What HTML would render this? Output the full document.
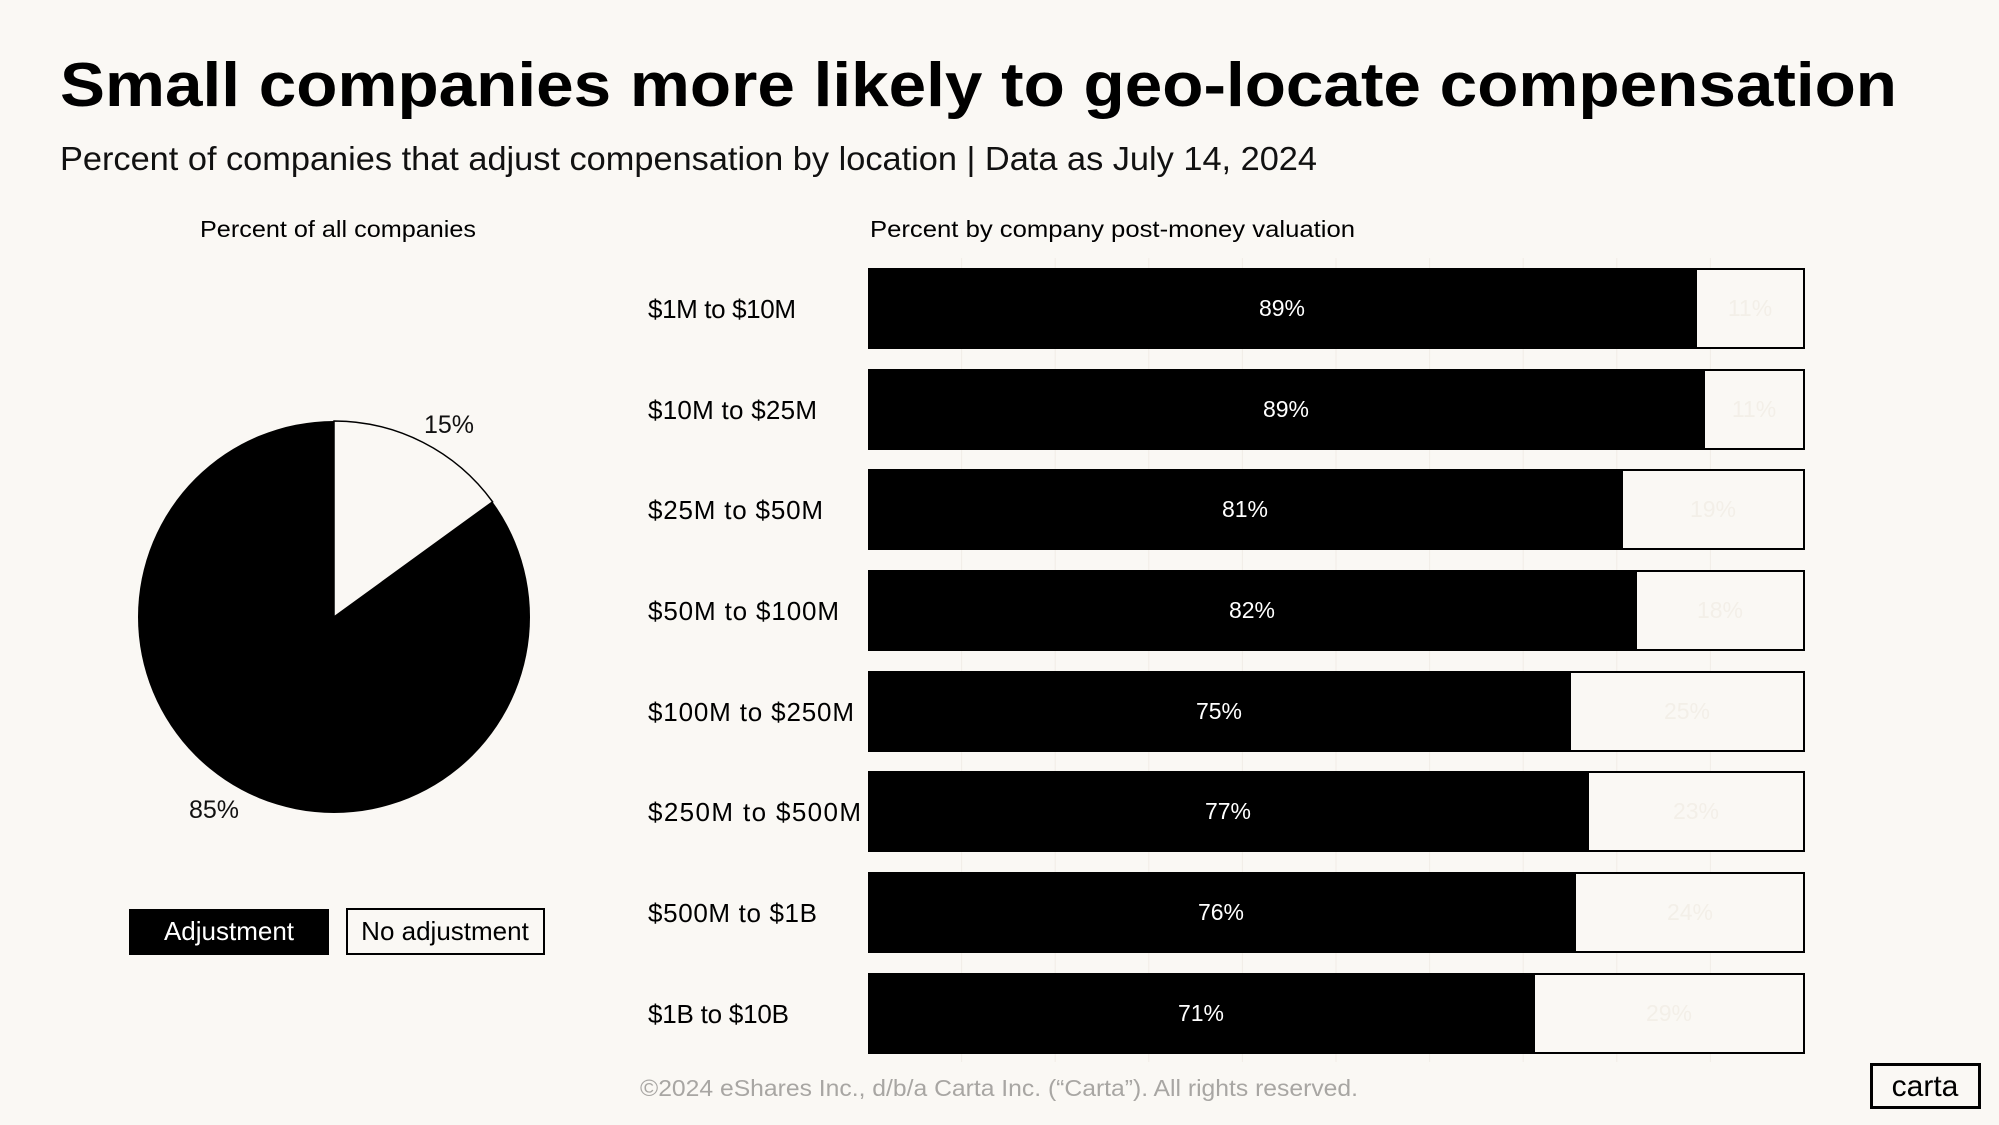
<!DOCTYPE html>
<html><head><meta charset="utf-8"><style>
html,body{margin:0;padding:0;background:#faf8f4;}
svg{display:block;}
text{font-family:"Liberation Sans",sans-serif;}
</style></head><body>
<svg width="1999" height="1125" viewBox="0 0 1999 1125" xmlns="http://www.w3.org/2000/svg">
<rect width="1999" height="1125" fill="#faf8f4"/>
<text x="60" y="106" font-size="62" font-weight="bold" fill="#000" textLength="1837" lengthAdjust="spacingAndGlyphs">Small companies more likely to geo-locate compensation</text>
<text x="60" y="170" font-size="33" fill="#111" textLength="1257" lengthAdjust="spacingAndGlyphs">Percent of companies that adjust compensation by location | Data as July 14, 2024</text>
<text x="200" y="237" font-size="23" fill="#000" textLength="276" lengthAdjust="spacingAndGlyphs">Percent of all companies</text>
<text x="870" y="237" font-size="23" fill="#000" textLength="485" lengthAdjust="spacingAndGlyphs">Percent by company post-money valuation</text>

<circle cx="334" cy="617" r="196" fill="#000"/>
<path d="M334,617 L334,421 A196,196 0 0 1 492.6,501.8 Z" fill="#faf8f4" stroke="#000" stroke-width="1.5"/>
<text x="449" y="433" font-size="25" fill="#111" text-anchor="middle">15%</text>
<text x="214" y="818" font-size="25" fill="#111" text-anchor="middle">85%</text>

<rect x="129" y="909" width="200" height="46" fill="#000"/>
<text x="229" y="940" font-size="26" fill="#fff" text-anchor="middle">Adjustment</text>
<rect x="347" y="909" width="197" height="45" fill="none" stroke="#000" stroke-width="2"/>
<text x="445" y="940" font-size="26" fill="#000" text-anchor="middle">No adjustment</text>

<g stroke="#f1ede6" stroke-width="1">
<line x1="961.6" y1="258" x2="961.6" y2="1062"/><line x1="1055.2" y1="258" x2="1055.2" y2="1062"/>
<line x1="1148.8" y1="258" x2="1148.8" y2="1062"/><line x1="1242.4" y1="258" x2="1242.4" y2="1062"/>
<line x1="1336" y1="258" x2="1336" y2="1062"/><line x1="1429.6" y1="258" x2="1429.6" y2="1062"/>
<line x1="1523.2" y1="258" x2="1523.2" y2="1062"/><line x1="1616.8" y1="258" x2="1616.8" y2="1062"/>
<line x1="1710.4" y1="258" x2="1710.4" y2="1062"/>
</g>

<g font-size="26" fill="#000" lengthAdjust="spacingAndGlyphs">
<text x="648" y="318" textLength="148">$1M to $10M</text>
<text x="648" y="419" textLength="169">$10M to $25M</text>
<text x="648" y="519" textLength="175">$25M to $50M</text>
<text x="648" y="620" textLength="191">$50M to $100M</text>
<text x="648" y="721" textLength="206">$100M to $250M</text>
<text x="648" y="821" textLength="213">$250M to $500M</text>
<text x="648" y="922" textLength="169">$500M to $1B</text>
<text x="648" y="1023" textLength="141">$1B to $10B</text>
</g>

<g stroke="#000" stroke-width="2">
<rect x="869" y="269" width="935" height="79" fill="#faf8f4"/>
<rect x="869" y="370" width="935" height="79" fill="#faf8f4"/>
<rect x="869" y="470" width="935" height="79" fill="#faf8f4"/>
<rect x="869" y="571" width="935" height="79" fill="#faf8f4"/>
<rect x="869" y="672" width="935" height="79" fill="#faf8f4"/>
<rect x="869" y="772" width="935" height="79" fill="#faf8f4"/>
<rect x="869" y="873" width="935" height="79" fill="#faf8f4"/>
<rect x="869" y="974" width="935" height="79" fill="#faf8f4"/>
</g>
<g fill="#000">
<rect x="868" y="268" width="829" height="81"/>
<rect x="868" y="369" width="837" height="81"/>
<rect x="868" y="469" width="755" height="81"/>
<rect x="868" y="570" width="769" height="81"/>
<rect x="868" y="671" width="703" height="81"/>
<rect x="868" y="771" width="721" height="81"/>
<rect x="868" y="872" width="708" height="81"/>
<rect x="868" y="973" width="667" height="81"/>
</g>
<g font-size="23" fill="#fff" text-anchor="middle">
<text x="1282" y="316">89%</text>
<text x="1286" y="417">89%</text>
<text x="1245" y="517">81%</text>
<text x="1252" y="618">82%</text>
<text x="1219" y="719">75%</text>
<text x="1228" y="819">77%</text>
<text x="1221" y="920">76%</text>
<text x="1201" y="1021">71%</text>
</g>
<g font-size="23" fill="#f3efe8" text-anchor="middle">
<text x="1750" y="316">11%</text>
<text x="1754" y="417">11%</text>
<text x="1713" y="517">19%</text>
<text x="1720" y="618">18%</text>
<text x="1687" y="719">25%</text>
<text x="1696" y="819">23%</text>
<text x="1690" y="920">24%</text>
<text x="1669" y="1021">29%</text>
</g>

<text x="640" y="1096" font-size="23" fill="#a8a6a3" textLength="718" lengthAdjust="spacingAndGlyphs">©2024 eShares Inc., d/b/a Carta Inc. (“Carta”). All rights reserved.</text>
<rect x="1871.5" y="1064.5" width="108" height="43" fill="none" stroke="#000" stroke-width="3"/>
<text x="1925" y="1096" font-size="30" fill="#000" text-anchor="middle">carta</text>
</svg>
</body></html>
